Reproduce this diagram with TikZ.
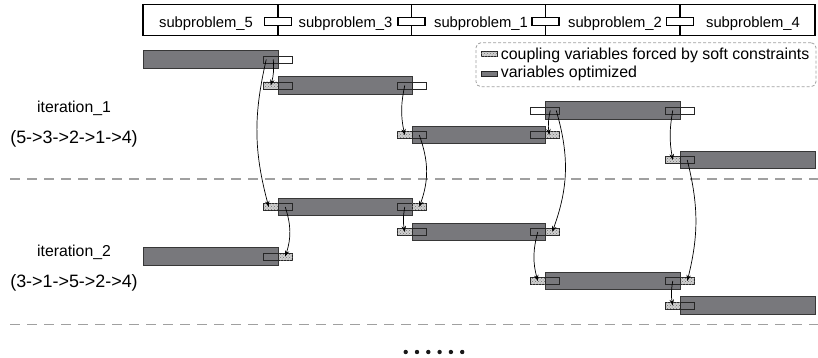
\documentclass[tikz,border=0pt]{standalone}
\usepackage{fontspec}
\setmainfont{Liberation Sans}
\usetikzlibrary{arrows.meta,patterns}
\definecolor{barfill}{RGB}{120,120,124}
\definecolor{bardraw}{RGB}{55,55,55}
\definecolor{hatchbg}{RGB}{208,208,208}
\definecolor{dashgray}{RGB}{160,160,160}
\newcommand\hdrfont{\fontsize{14.8}{18}\selectfont}
\newcommand\legfont{\fontsize{15.9}{19}\selectfont}
\newcommand\itfont{\fontsize{15.8}{19}\selectfont}
\newcommand\ordfont{\fontsize{17.9}{21}\selectfont}
% pair of coupling parts at the right end of a bar: name, divider x, y, outer style
\newcommand\pairR[4]{%
  \node[inpart] (#1-in) at (#2-7.25,#3) {};
  \node[#4] (#1-out) at (#2+7.25,#3) {};}
% pair of coupling parts at the left end of a bar
\newcommand\pairL[4]{%
  \node[inpart] (#1-in) at (#2+7.25,#3) {};
  \node[#4] (#1-out) at (#2-7.25,#3) {};}
\begin{document}
\begin{tikzpicture}[x=1pt,y=-1pt,
  bar/.style={draw=bardraw,fill=barfill,line width=0.9pt,minimum height=17.5pt,inner sep=0pt,outer sep=0pt},
  part/.style={draw=black!85,line width=0.8pt,minimum width=14.5pt,minimum height=7pt,inner sep=0pt,outer sep=0pt},
  inpart/.style={part,fill=barfill},
  freepart/.style={part,fill=white},
  forcedpart/.style={part,fill=hatchbg,postaction={pattern=crosshatch dots,pattern color=black!55}},
  link/.style={-{Stealth[length=6pt,width=4.4pt]},line width=0.7pt,black},
  hdrbox/.style={draw=black,line width=1.1pt,inner sep=0pt,outer sep=0pt},
  hdrline/.style={draw=black,line width=1.2pt},
  hdrtext/.style={anchor=base,inner sep=0pt,font=\hdrfont},
  ittext/.style={anchor=base,inner sep=0pt,font=\itfont},
  ordtext/.style={anchor=base,inner sep=0pt,font=\ordfont},
  legtext/.style={anchor=base west,inner sep=0pt,font=\legfont},
  sepline/.style={draw=dashgray,line width=1.3pt,dash pattern=on 10pt off 7pt},
  dotnode/.style={circle,fill=black!90,inner sep=0pt,minimum size=4.4pt}
]
\useasboundingbox (0,0) rectangle (818,358);

% ---------- header ----------
\node[hdrbox,minimum width=672pt,minimum height=31pt] (header) at (479,20.2) {};
\coordinate (hd1) at (278,21.6);
\coordinate (hd2) at (411.5,21.6);
\coordinate (hd3) at (545.5,21.6);
\coordinate (hd4) at (680,21.6);
\draw[hdrline] (hd1 |- header.north) -- (hd1 |- header.south);
\draw[hdrline] (hd2 |- header.north) -- (hd2 |- header.south);
\draw[hdrline] (hd3 |- header.north) -- (hd3 |- header.south);
\draw[hdrline] (hd4 |- header.north) -- (hd4 |- header.south);
\node[hdrbox,fill=white,minimum width=27pt,minimum height=8.6pt] (hb1) at (hd1) {};
\node[hdrbox,fill=white,minimum width=27pt,minimum height=8.6pt] (hb2) at (hd2) {};
\node[hdrbox,fill=white,minimum width=27pt,minimum height=8.6pt] (hb3) at (hd3) {};
\node[hdrbox,fill=white,minimum width=27pt,minimum height=8.6pt] (hb4) at (hd4) {};
\node[hdrtext] (h5) at (206,27.3) {subproblem\_5};
\node[hdrtext] (h3) at (345.5,27.3) {subproblem\_3};
\node[hdrtext] (h1) at (481,27.3) {subproblem\_1};
\node[hdrtext] (h2) at (615,27.3) {subproblem\_2};
\node[hdrtext] (h4) at (753,27.3) {subproblem\_4};

% ---------- legend ----------
\node[draw=dashgray,line width=0.8pt,dash pattern=on 3pt off 2pt,rounded corners=5pt,
      minimum width=340pt,minimum height=44pt,inner sep=0pt] (legend) at (646,64.7) {};
\node[forcedpart,line width=0.6pt,minimum width=16pt,minimum height=5pt] (legf) at (489,54) {};
\node[legtext] (legft) at (500.7,59.3) {coupling variables forced by soft constraints};
\node[inpart,line width=0.6pt,minimum width=16pt,minimum height=5pt] (lego) at (489,74) {};
\node[legtext] (legot) at (500.7,77.3) {variables optimized};

% ---------- left labels ----------
\node[ittext] (it1) at (74,112.5) {iteration\_1};
\node[ordtext] (ord1) at (74,143.5) {(5->3->2->1->4)};
\node[ittext] (it2) at (74,256) {iteration\_2};
\node[ordtext] (ord2) at (74,287) {(3->1->5->2->4)};

% ---------- separators ----------
\coordinate (sepa1) at (10,179);
\coordinate (sepb1) at (818,179);
\coordinate (sepa2) at (10,324.5);
\coordinate (sepb2) at (818,324.5);
\draw[sepline] (sepa1) -- (sepb1);
\draw[sepline] (sepa2) -- (sepb2);

% ---------- bars: iteration 1 ----------
\node[bar,minimum width=135pt] (i1s5) at (210.5,59.5) {};
\node[bar,minimum width=134pt] (i1s3) at (345,85.5) {};
\node[bar,minimum width=135pt] (i1s2) at (612.5,110.5) {};
\node[bar,minimum width=133pt] (i1s1) at (478.5,135) {};
\node[bar,minimum width=135pt] (i1s4) at (747.5,160) {};
% ---------- bars: iteration 2 ----------
\node[bar,minimum width=134pt] (i2s3) at (345,207) {};
\node[bar,minimum width=133pt] (i2s1) at (478.5,232) {};
\node[bar,minimum width=135pt] (i2s5) at (210.5,256.5) {};
\node[bar,minimum width=135pt] (i2s2) at (612.5,281) {};
\node[bar,minimum width=135pt] (i2s4) at (747.5,305.5) {};

% ---------- coupling parts: iteration 1 ----------
\pairR{i1s5r}{278}{59.5}{freepart}
\pairL{i1s3l}{278}{85.5}{forcedpart}
\pairR{i1s3r}{412}{85.5}{freepart}
\pairL{i1s2l}{545}{110.5}{freepart}
\pairR{i1s2r}{680}{110.5}{freepart}
\pairL{i1s1l}{412}{135}{forcedpart}
\pairR{i1s1r}{545}{135}{forcedpart}
\pairL{i1s4l}{680}{160}{forcedpart}
% ---------- coupling parts: iteration 2 ----------
\pairL{i2s3l}{278}{207}{forcedpart}
\pairR{i2s3r}{412}{207}{forcedpart}
\pairL{i2s1l}{412}{232}{forcedpart}
\pairR{i2s1r}{545}{232}{forcedpart}
\pairR{i2s5r}{278}{256.5}{forcedpart}
\pairL{i2s2l}{545}{281}{forcedpart}
\pairR{i2s2r}{680}{281}{forcedpart}
\pairL{i2s4l}{680}{305.5}{forcedpart}

% ---------- arrows ----------
\draw[link] ([xshift=2.5pt]i1s5r-in.center) to[bend left=10] (i1s3l-out.center);
\draw[link] ([xshift=-4.5pt]i1s5r-in.center) to[bend right=14] ([xshift=-2pt]i2s3l-out.center);
\draw[link] (i1s3r-in.center) to[bend right=12] (i1s1l-out.center);
\draw[link] (i1s1l-in.center) to[bend left=20] (i2s3r-out.center);
\draw[link] ([xshift=-2pt]i1s2l-in.center) to[bend right=10] ([xshift=-3pt]i1s1r-out.center);
\draw[link] ([xshift=4pt]i1s2l-in.center) to[bend left=18] (i2s1r-out.center);
\draw[link] (i1s2r-in.center) to[bend right=10] (i1s4l-out.center);
\draw[link] (i1s4l-in.center) to[bend left=14] (i2s2r-out.center);
\draw[link] (i2s3l-in.center) to[bend left=18] (i2s5r-out.center);
\draw[link] (i2s3r-in.center) to[bend right=10] (i2s1l-out.center);
\draw[link] (i2s1r-in.center) to[bend right=15] (i2s2l-out.center);
\draw[link] (i2s2r-in.center) to[bend right=10] (i2s4l-out.center);

% ---------- dots ----------
\foreach \i in {0,...,5}{
  \node[dotnode] (dot\i) at (405.7+11.3*\i,352) {};
}
\end{tikzpicture}
\end{document}
